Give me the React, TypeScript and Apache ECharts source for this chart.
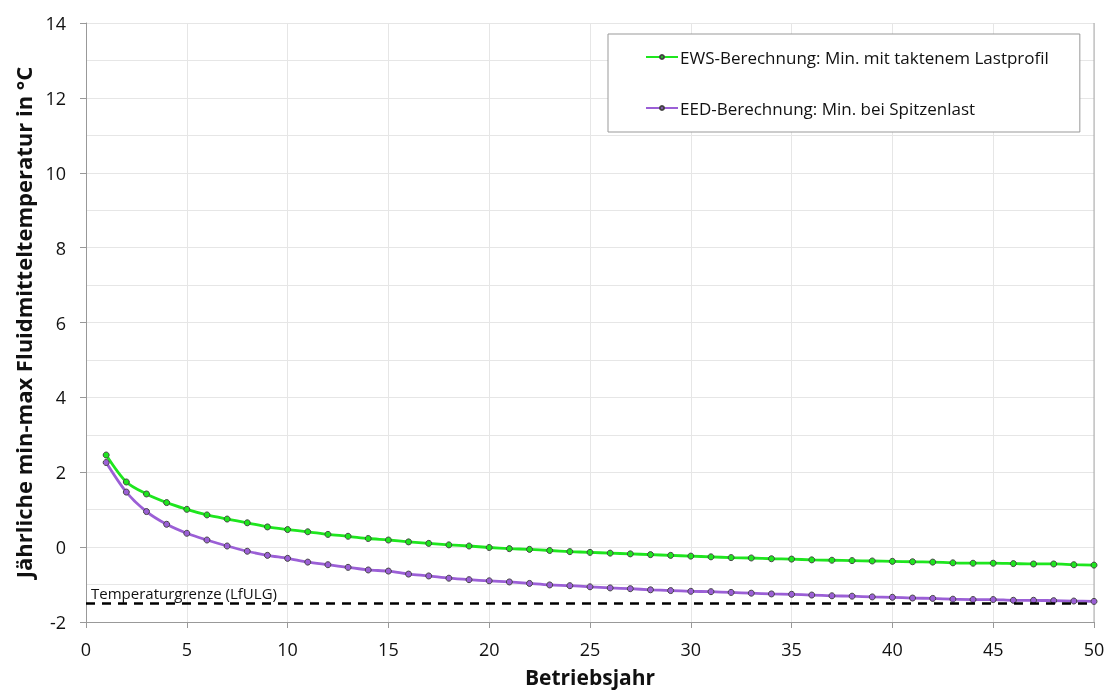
import React, { useEffect, useRef } from "react";
import * as echarts from "echarts";

const years = Array.from({ length: 50 }, (_, i) => i + 1);

const ewsMin = [
  2.46, 1.74, 1.42, 1.19, 1.01, 0.86, 0.75, 0.65, 0.54, 0.47,
  0.41, 0.34, 0.29, 0.23, 0.19, 0.14, 0.1, 0.06, 0.03, -0.01,
  -0.04, -0.06, -0.09, -0.12, -0.14, -0.16, -0.18, -0.2, -0.22, -0.24,
  -0.26, -0.28, -0.29, -0.31, -0.32, -0.34, -0.35, -0.36, -0.37, -0.38,
  -0.39, -0.4, -0.42, -0.43, -0.43, -0.44, -0.45, -0.45, -0.47, -0.48,
];

const eedMin = [
  2.26, 1.47, 0.95, 0.61, 0.37, 0.19, 0.03, -0.11, -0.22, -0.3,
  -0.4, -0.47, -0.54, -0.61, -0.64, -0.72, -0.77, -0.83, -0.87, -0.9,
  -0.93, -0.97, -1.01, -1.03, -1.06, -1.09, -1.11, -1.14, -1.16, -1.18,
  -1.19, -1.21, -1.23, -1.25, -1.26, -1.28, -1.3, -1.31, -1.33, -1.34,
  -1.36, -1.37, -1.39, -1.4, -1.4, -1.42, -1.42, -1.43, -1.44, -1.45,
];

const limitValue = -1.5;

const seriesNames = [
  "EWS-Berechnung: Min. mit taktenem Lastprofil",
  "EED-Berechnung: Min. bei Spitzenlast",
];
const limitLabel = "Temperaturgrenze (LfULG)";
const xTitle = "Betriebsjahr";
const yTitle = "Jährliche min-max Fluidmitteltemperatur in °C";

const FONT = "'Open Sans', 'Noto Sans', sans-serif";

export default function App() {
  const ref = useRef<HTMLDivElement>(null);
  useEffect(() => {
    if (!ref.current) return;
    const chart = echarts.init(ref.current, undefined, { renderer: "svg" });
    const mk = (name: string, data: number[], color: string) => ({
      name,
      type: "line",
      data: years.map((y, i) => [y, data[i]]),
      smooth: 0.3,
      symbol: "circle",
      symbolSize: 6,
      showSymbol: true,
      lineStyle: { color, width: 2.8 },
      itemStyle: { color, borderColor: "#444", borderWidth: 1 },
      z: 3,
    });
    chart.setOption({
      animation: false,
      textStyle: { fontFamily: FONT },
      grid: { left: 86, right: 14, top: 23, bottom: 73, containLabel: false },
      legend: {
        orient: "vertical",
        left: 608,
        top: 34,
        padding: [13, 31, 14, 37],
        itemGap: 31,
        itemWidth: 32,
        itemHeight: 5,
        borderColor: "#999",
        borderWidth: 1,
        borderRadius: 0,
        backgroundColor: "#fff",
        textStyle: {
          fontSize: 17,
          lineHeight: 20,
          color: "#111",
          fontFamily: FONT,
          padding: [0, 0, 0, -3],
        },
        data: seriesNames,
      },
      xAxis: {
        type: "value",
        min: 0,
        max: 50,
        interval: 5,
        name: xTitle,
        nameLocation: "middle",
        nameGap: 44,
        nameTextStyle: { fontSize: 21, fontWeight: "bold", color: "#111", fontFamily: FONT },
        axisLine: { show: true, onZero: false, lineStyle: { color: "#999" } },
        axisTick: { show: true, length: 6, lineStyle: { color: "#999" } },
        axisLabel: { fontSize: 18, color: "#111", margin: 18, fontFamily: FONT },
        splitLine: { show: true, lineStyle: { color: "#e6e6e6" } },
      },
      yAxis: {
        type: "value",
        min: -2,
        max: 14,
        interval: 2,
        name: yTitle,
        nameLocation: "middle",
        nameGap: 52,
        nameTextStyle: { fontSize: 22, fontWeight: "bold", color: "#111", fontFamily: FONT },
        axisLine: { show: true, lineStyle: { color: "#999" } },
        axisTick: { show: true, length: 6, lineStyle: { color: "#999" } },
        axisLabel: { fontSize: 18, color: "#111", margin: 20, fontFamily: FONT },
        splitLine: { show: true, lineStyle: { color: "#e6e6e6" } },
        minorTick: { show: false, splitNumber: 2 },
        minorSplitLine: { show: true, lineStyle: { color: "#e6e6e6" } },
      },
      series: [
        {
          ...mk(seriesNames[0], ewsMin, "#1ee61e"),
          markLine: {
            silent: true,
            symbol: "none",
            animation: false,
            lineStyle: { color: "#000", width: 2.5, type: [9, 7] },
            label: {
              show: true,
              position: "insideStartTop",
              formatter: limitLabel,
              fontSize: 15,
              color: "#111",
              fontFamily: FONT,
              distance: [5, 3],
            },
            emphasis: { disabled: true },
            data: [{ yAxis: limitValue }],
          },
        },
        mk(seriesNames[1], eedMin, "#9b5fd6"),
        {
          type: "line",
          data: [[50, 14], [50, -2]],
          symbol: "none",
          lineStyle: { color: "#aaa", width: 1 },
          silent: true,
        },
      ],
    });
    return () => chart.dispose();
  }, []);
  return (
    <div
      ref={ref}
      style={{ position: "fixed", left: 0, top: 0, width: 1108, height: 695 }}
    />
  );
}
